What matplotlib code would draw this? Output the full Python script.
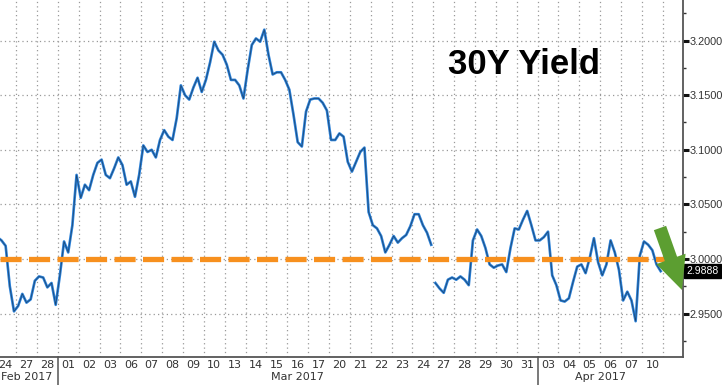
import numpy as np
import matplotlib
matplotlib.use("Agg")
import matplotlib.pyplot as plt
import matplotlib.transforms as mtransforms
from matplotlib.patches import FancyArrow

# trading days shown on the axis
day_labels = ["24", "27", "28",
              "01", "02", "03", "06", "07", "08", "09", "10", "13", "14", "15", "16",
              "17", "20", "21", "22", "23", "24", "27", "28", "29", "30", "31",
              "03", "04", "05", "06", "07", "10"]
months = ["Feb 2017", "Mar 2017", "Apr 2017"]
month_first_day = [0, 3, 26]

# 30Y yield, five intraday readings per trading day
feb_yield = [
    [3.020, 3.017, 3.012, 2.975, 2.952],
    [2.957, 2.968, 2.960, 2.963, 2.980],
    [2.984, 2.983, 2.974, 2.978, 2.958],
]
mar_yield = [
    [2.985, 3.016, 3.006, 3.031, 3.077],
    [3.056, 3.068, 3.063, 3.077, 3.088],
    [3.091, 3.077, 3.074, 3.083, 3.093],
    [3.086, 3.068, 3.071, 3.057, 3.077],
    [3.104, 3.098, 3.100, 3.093, 3.109],
    [3.118, 3.112, 3.109, 3.129, 3.159],
    [3.150, 3.146, 3.157, 3.166, 3.153],
    [3.164, 3.180, 3.199, 3.191, 3.187],
    [3.178, 3.164, 3.164, 3.159, 3.147],
    [3.173, 3.196, 3.202, 3.199, 3.210],
    [3.187, 3.169, 3.171, 3.171, 3.164],
    [3.155, 3.132, 3.107, 3.103, 3.135],
    [3.146, 3.147, 3.147, 3.143, 3.136],
    [3.109, 3.109, 3.115, 3.112, 3.089],
    [3.080, 3.089, 3.098, 3.102, 3.043],
    [3.031, 3.028, 3.021, 3.006, 3.013],
    [3.021, 3.015, 3.019, 3.022, 3.030],
    [3.041, 3.041, 3.031, 3.024, 3.013],
    [2.978, 2.973, 2.969, 2.981, 2.983],
    [2.981, 2.984, 2.981, 2.976, 3.017],
    [3.027, 3.021, 3.010, 2.995, 2.992],
    [2.994, 2.995, 2.988, 3.010, 3.028],
    [3.027, 3.036, 3.044, 3.031, 3.017],
]
apr_yield = [
    [3.017, 3.020, 3.025, 2.985, 2.976],
    [2.962, 2.961, 2.964, 2.979, 2.993],
    [2.995, 2.987, 3.001, 3.019, 2.997],
    [2.985, 2.995, 3.017, 3.006, 2.990],
    [2.962, 2.970, 2.962, 2.943, 3.003],
    [3.016, 3.013, 3.008, 2.995, 2.9888],
]
gap_before_day = 21  # no trading between Mar 24 close and Mar 27 print
ref_level = 3.0
last_value = 2.9888

yields = np.array(feb_yield + mar_yield + apr_yield)
n_days, per_day = yields.shape
offs = np.linspace(-0.4, 0.4, per_day)
x = (np.arange(n_days)[:, None] + offs[None, :]).ravel()
y = yields.ravel()
cut = gap_before_day * per_day

fig = plt.figure(figsize=(7.22, 3.85), dpi=100)
ax = fig.add_axes([0, 28 / 385, 683 / 722, 357 / 385])

for xs, ys in [(x[:cut], y[:cut]), (x[cut:], y[cut:])]:
    ax.plot(xs, ys, color="#2a80d8", lw=1.9, zorder=3)
    ax.plot(xs, ys, color="#111111", lw=0.5, alpha=0.55, zorder=4)

ax.axhline(ref_level, color="#f7901e", lw=3.8, dashes=(4, 1.4), zorder=5)

ax.set_xlim(-0.27, 32.47)
ax.set_ylim(2.9102, 3.2372)

# y axis on the right
ax.yaxis.tick_right()
ax.set_yticks(np.arange(2.95, 3.2001, 0.05))
ax.set_yticks(np.arange(2.925, 3.23, 0.05), minor=True)
ax.yaxis.set_major_formatter(plt.FormatStrFormatter("%.4f"))
ax.tick_params(axis="y", which="major", direction="out", length=4, width=2.2,
               colors="#111111", labelcolor="#333333", labelsize=7.8, pad=1)
ax.tick_params(axis="y", which="minor", direction="out", length=2.5, width=1,
               colors="#333333")
for lab in ax.get_yticklabels():
    lab.set_family("Liberation Sans")

# x axis: labels at day centres, dotted grid at day boundaries
ax.set_xticks(np.arange(n_days))
ax.set_xticklabels(day_labels)
ax.set_xticks(np.arange(n_days) + 0.5, minor=True)
ax.tick_params(axis="x", which="major", length=0, labelsize=8,
               labelcolor="#333333", pad=2)
ax.tick_params(axis="x", which="minor", length=0)
ax.grid(True, axis="x", which="minor", color="#999999", ls=(0, (1, 2.5)), lw=0.9)
ax.grid(True, axis="y", which="major", color="#999999", ls=(0, (1, 2.5)), lw=0.9)

for s in ["left", "top"]:
    ax.spines[s].set_visible(False)
for s in ["right", "bottom"]:
    ax.spines[s].set_color("#555555")
    ax.spines[s].set_linewidth(1.3)

# month row and separators
trans = mtransforms.blended_transform_factory(ax.transData, ax.transAxes)
bounds = month_first_day + [n_days]
for i, m in enumerate(months):
    centre = (max(bounds[i], 0) + bounds[i + 1] - 1) / 2
    ax.text(centre, -0.056, m, transform=trans, ha="center", va="center",
            fontsize=8, color="#333333")
    if i > 0:
        ax.plot([bounds[i] - 0.5] * 2, [0, -0.08], transform=trans,
                color="#555555", lw=1.1, clip_on=False)

ax.text(0.767, 0.818, "30Y Yield", transform=ax.transAxes, ha="center",
        va="center", fontsize=25, fontweight="bold", family="Liberation Sans")

# last price tag
ax.annotate(f"{last_value:.4f}", xy=(1.0, last_value),
            xycoords=("axes fraction", "data"), xytext=(2.5, 0),
            textcoords="offset points", ha="left", va="center", fontsize=7.5,
            family="Liberation Sans", color="white", annotation_clip=False,
            bbox=dict(boxstyle="square,pad=0.2", fc="black", ec="black"))

# green arrow pointing at the last print (figure inches)
arrow = FancyArrow(6.60, 1.57, 0.22, -0.62, width=0.13, head_width=0.31,
                   head_length=0.33, length_includes_head=True,
                   transform=fig.dpi_scale_trans, color="#5c9e31", lw=0,
                   zorder=10)
fig.patches.append(arrow)

fig.savefig("out.png", dpi=100)
